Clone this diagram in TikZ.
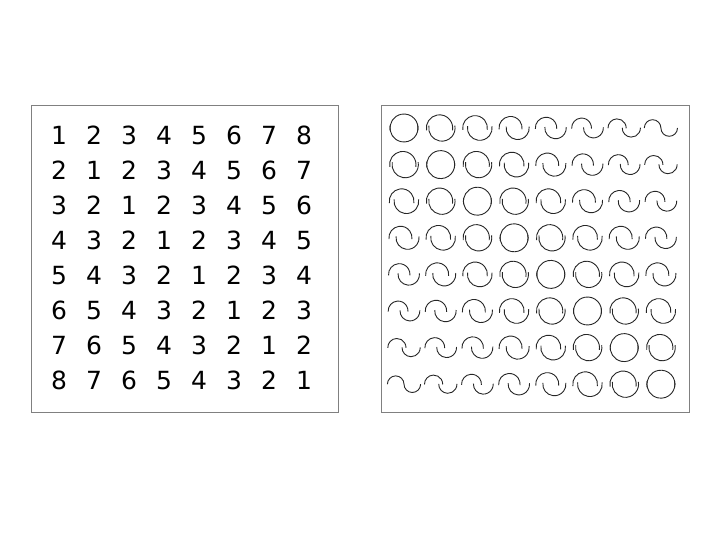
\documentclass[tikz,border=0pt]{standalone}
\usepackage{fontspec}
\setmainfont{DejaVu Sans}
\usepackage{tikz}
\usetikzlibrary{calc}

\begin{document}
\begin{tikzpicture}  [x=1pt,y=1pt]
\useasboundingbox (0,0) rectangle (720,540);
\draw[gray,line width=1pt] (31,127) rectangle (338,434);
\draw[gray,line width=1pt] (381,127) rectangle (689,434);
\foreach \i in {0,...,7} {
 \foreach \j [evaluate=\j as \v using int(abs(\i-\j)+1)] in {0,...,7} {
  \node[font=\fontsize{25}{25}\selectfont, inner sep=0pt, anchor=base] (n-\i-\j) at ({59+35*\j},{395-35*\i}) {\v};
 }
}
\foreach \i in {0,...,7} {
 \foreach \j [evaluate=\j as \t using abs(\i-\j)/7] in {0,...,7} {
  \pgfmathsetmacro\gRad{14-5.7*\t}
  \pgfmathsetmacro\gOff{8.3*\t}
  \pgfmathsetmacro\gExt{12*(1-\t)}
  \coordinate (g-\i-\j) at ({404+36.7*\j},{412-36.6*\i});
  \draw[black!85,line width=.9pt] ($(g-\i-\j)+({-\gOff+\gRad*cos(180+\gExt)},{\gRad*sin(180+\gExt)})$) arc[start angle=180+\gExt, end angle=-\gExt, radius=\gRad];
  \draw[black!85,line width=.9pt] ($(g-\i-\j)+({\gOff+\gRad*cos(180-\gExt)},{\gRad*sin(180-\gExt)})$) arc[start angle=180-\gExt, end angle=360+\gExt, radius=\gRad];
 }
}
\end{tikzpicture}
\end{document}
